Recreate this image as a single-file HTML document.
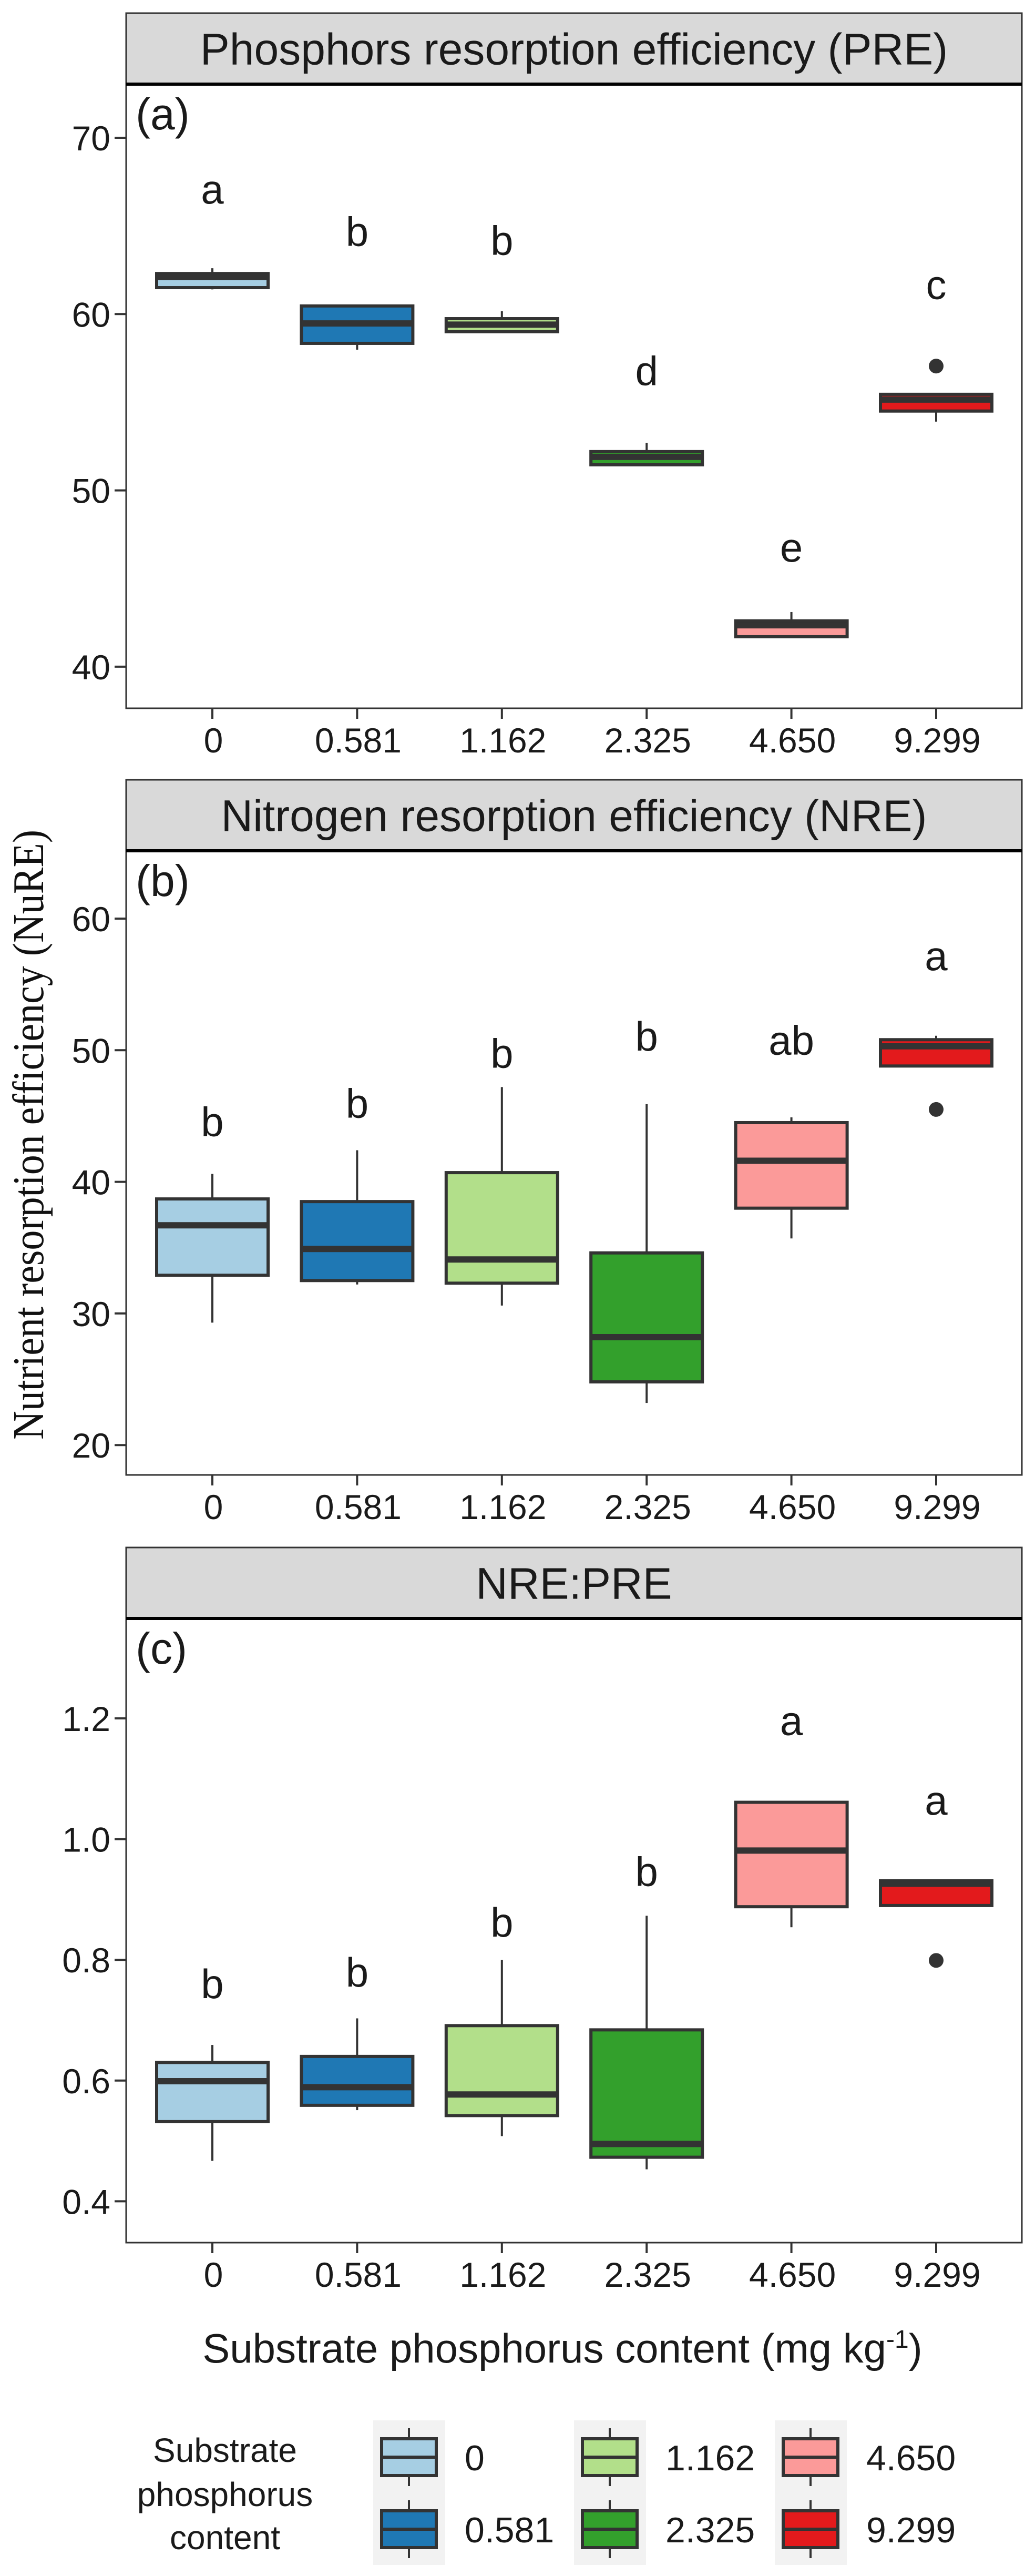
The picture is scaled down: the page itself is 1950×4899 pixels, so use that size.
<!DOCTYPE html>
<html><head><meta charset="utf-8"><style>
html,body{margin:0;padding:0;background:#fff}
svg{display:block}
text{font-family:"Liberation Sans",Arial,sans-serif;fill:#1a1a1a}
</style></head>
<body>
<svg id="chart" width="1950" height="4899" viewBox="0 0 1950 4899" xmlns="http://www.w3.org/2000/svg">
<text transform="translate(82,2158) rotate(-90)" text-anchor="middle" textLength="1160" lengthAdjust="spacingAndGlyphs" style="font-family:'Liberation Serif','Times New Roman',serif;font-size:84px;fill:#111">Nutrient resorption efficiency (NuRE)</text>
<text x="1070" y="4493" text-anchor="middle" style="font-size:78px">Substrate phosphorus content (mg kg<tspan dy="-28" style="font-size:48px">-1</tspan><tspan dy="28">)</tspan></text>
</svg>
<script>
const categories = ["0","0.581","1.162","2.325","4.650","9.299"];
const colors = ["#A6CEE3","#1F78B4","#B2DF8A","#33A02C","#FB9A99","#E31A1C"];

// Panel a: PRE
const preWhiskerLow = [61.4, 57.98, 59.0, 51.4, 41.7, 53.9];
const preQ1 = [61.5, 58.34, 59.0, 51.45, 41.7, 54.5];
const preMedian = [62.1, 59.47, 59.4, 51.9, 42.35, 55.15];
const preQ3 = [62.3, 60.46, 59.74, 52.2, 42.6, 55.45];
const preWhiskerHigh = [62.6, 60.46, 60.16, 52.7, 43.1, 55.45];
const preOutliers = [[], [], [], [], [], [57.05]];
const preLetters = ["a","b","b","d","e","c"];
const preLetterY = [67.1, 64.7, 64.2, 56.8, 46.8, 61.7];
const preTicks = [40, 50, 60, 70];

// Panel b: NRE
const nreWhiskerLow = [29.3, 32.2, 30.6, 23.2, 35.7, 48.8];
const nreQ1 = [32.9, 32.5, 32.3, 24.8, 38.0, 48.8];
const nreMedian = [36.7, 34.9, 34.1, 28.2, 41.6, 50.3];
const nreQ3 = [38.7, 38.5, 40.7, 34.6, 44.5, 50.8];
const nreWhiskerHigh = [40.6, 42.4, 47.2, 45.9, 44.9, 51.1];
const nreOutliers = [[], [], [], [], [], [45.5]];
const nreLetters = ["b","b","b","b","ab","a"];
const nreLetterY = [44.6, 46.0, 49.8, 51.1, 50.8, 57.2];
const nreTicks = [20, 30, 40, 50, 60];

// Panel c: NRE:PRE
const ratioWhiskerLow = [0.467, 0.551, 0.508, 0.453, 0.854, 0.890];
const ratioQ1 = [0.532, 0.559, 0.542, 0.473, 0.888, 0.890];
const ratioMedian = [0.599, 0.589, 0.577, 0.495, 0.981, 0.926];
const ratioQ3 = [0.630, 0.640, 0.691, 0.684, 1.061, 0.931];
const ratioWhiskerHigh = [0.659, 0.703, 0.800, 0.873, 1.061, 0.931];
const ratioOutliers = [[], [], [], [], [], [0.799]];
const ratioLetters = ["b","b","b","b","a","a"];
const ratioLetterY = [0.761, 0.780, 0.863, 0.947, 1.197, 1.065];
const ratioTicks = [0.4, 0.6, 0.8, 1.0, 1.2];

const NS = "http://www.w3.org/2000/svg";
const svg = document.getElementById("chart");
function mk(tag, attrs, parent) {
  const e = document.createElementNS(NS, tag);
  for (const k in attrs) e.setAttribute(k, attrs[k]);
  (parent || svg).appendChild(e);
  return e;
}
const PL = 240, PR = 1944;
const xPos = i => 404 + i * 275.4;
const BW = 212;

function panel(cfg) {
  const g = mk("g", {});
  
  
  const y = v => cfg.y0 + (cfg.v0 - v) * cfg.scale;
  // strip
  const strip = mk("rect", {x: PL, y: cfg.stripTop, width: PR - PL, height: cfg.plotTop - cfg.stripTop, fill: "#D9D9D9", stroke: "#333", "stroke-width": 3}, g);
  
  
  const st = mk("text", {x: (PL + PR) / 2, y: (cfg.stripTop + cfg.plotTop) / 2 + 30, "text-anchor": "middle", "font-size": 84}, g);
  st.textContent = cfg.title;
  
  
  // plot frame
  const fr = mk("rect", {x: PL, y: cfg.plotTop, width: PR - PL, height: cfg.plotBottom - cfg.plotTop, fill: "#fff", stroke: "#333", "stroke-width": 3}, g);
  
  
  mk("line", {x1: PL, x2: PR, y1: cfg.plotTop, y2: cfg.plotTop, stroke: "#000", "stroke-width": 6}, g);
  // tag
  const tg = mk("text", {x: 258, y: cfg.plotTop + 86, "font-size": 84}, g);
  tg.textContent = cfg.tag;
  
  
  // y ticks
  cfg.ticks.forEach(t => {
    const ty = y(t);
    mk("line", {x1: 218, x2: PL, y1: ty, y2: ty, stroke: "#333", "stroke-width": 4}, g);
    const tl = mk("text", {x: 210, y: ty + 24, "text-anchor": "end", "font-size": 66}, g);
    tl.textContent = cfg.tickFmt(t);
    
    
  });
  // x ticks
  categories.forEach((c, i) => {
    const x = xPos(i);
    mk("line", {x1: x, x2: x, y1: cfg.plotBottom, y2: cfg.plotBottom + 20, stroke: "#333", "stroke-width": 4}, g);
    const xl = mk("text", {x: x + 2, y: cfg.plotBottom + 84, "text-anchor": "middle", "font-size": 66}, g);
    xl.textContent = c;
    
    
  });
  // boxes
  categories.forEach((c, i) => {
    const x = xPos(i);
    const bg = mk("g", {}, g);
    
    
    mk("line", {x1: x, x2: x, y1: y(cfg.wh[i]), y2: y(cfg.q3[i]), stroke: "#333", "stroke-width": 4}, bg);
    mk("line", {x1: x, x2: x, y1: y(cfg.q1[i]), y2: y(cfg.wl[i]), stroke: "#333", "stroke-width": 4}, bg);
    mk("rect", {x: x - BW / 2, y: y(cfg.q3[i]), width: BW, height: Math.max(0.5, y(cfg.q1[i]) - y(cfg.q3[i])), fill: colors[i], stroke: "#333", "stroke-width": 6}, bg);
    mk("line", {x1: x - BW / 2, x2: x + BW / 2, y1: y(cfg.med[i]), y2: y(cfg.med[i]), stroke: "#333", "stroke-width": 12}, bg);
    cfg.out[i].forEach(o => {
      const d = mk("circle", {cx: x, cy: y(o), r: 14, fill: "#333"}, bg);
      
      
    });
    const lt = mk("text", {x: x, y: y(cfg.ly[i]) + 28, "text-anchor": "middle", "font-size": 78}, g);
    lt.textContent = cfg.letters[i];
    
    
  });
}

panel({name: "panel-pre", title: "Phosphors resorption efficiency (PRE)", tag: "(a)", stripTop: 25, plotTop: 160, plotBottom: 1347,
  y0: 262, v0: 70, scale: 33.53, ticks: preTicks, tickFmt: t => String(t),
  wl: preWhiskerLow, q1: preQ1, med: preMedian, q3: preQ3, wh: preWhiskerHigh, out: preOutliers, letters: preLetters, ly: preLetterY});
panel({name: "panel-nre", title: "Nitrogen resorption efficiency (NRE)", tag: "(b)", stripTop: 1483, plotTop: 1618, plotBottom: 2805,
  y0: 1747, v0: 60, scale: 25.03, ticks: nreTicks, tickFmt: t => String(t),
  wl: nreWhiskerLow, q1: nreQ1, med: nreMedian, q3: nreQ3, wh: nreWhiskerHigh, out: nreOutliers, letters: nreLetters, ly: nreLetterY});
panel({name: "panel-ratio", title: "NRE:PRE", tag: "(c)", stripTop: 2943, plotTop: 3078, plotBottom: 4265,
  y0: 3268, v0: 1.2, scale: 1148, ticks: ratioTicks, tickFmt: t => t.toFixed(1),
  wl: ratioWhiskerLow, q1: ratioQ1, med: ratioMedian, q3: ratioQ3, wh: ratioWhiskerHigh, out: ratioOutliers, letters: ratioLetters, ly: ratioLetterY});

// legend
const lg = mk("g", {});


[["Substrate", 4682], ["phosphorus", 4766], ["content", 4848]].forEach(([t, yy]) => {
  const e = mk("text", {x: 428, y: yy, "text-anchor": "middle", "font-size": 64}, lg);
  e.textContent = t;
  
  
});
categories.forEach((c, i) => {
  const col = Math.floor(i / 2), row = i % 2;
  const bx = 710 + col * 382;
  const cy = row === 0 ? 4673 : 4810;
  const eg = mk("g", {}, lg);
  
  
  if (row === 0) mk("rect", {x: bx, y: 4603, width: 137, height: 275, fill: "#F2F2F2"}, eg);
  const kx = bx + 68;
  mk("line", {x1: kx, x2: kx, y1: cy - 55, y2: cy + 55, stroke: "#333", "stroke-width": 4}, eg);
  mk("rect", {x: kx - 52, y: cy - 35, width: 104, height: 70, fill: colors[i], stroke: "#333", "stroke-width": 6}, eg);
  mk("line", {x1: kx - 52, x2: kx + 52, y1: cy, y2: cy, stroke: "#333", "stroke-width": 6}, eg);
  const lt = mk("text", {x: bx + 174, y: cy + 25, "font-size": 68}, eg);
  lt.textContent = c;
});
</script>
</body></html>
